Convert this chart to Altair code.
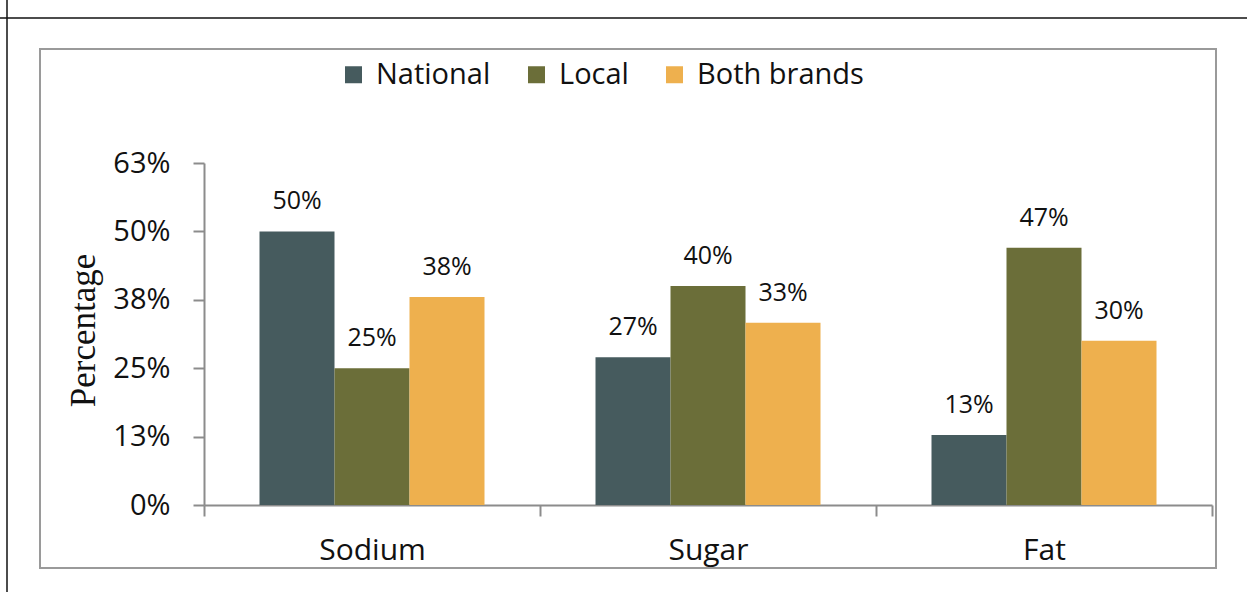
import altair as alt
import pandas as pd

categories = ["Sodium", "Sugar", "Fat"]
series = ["National", "Local", "Both brands"]
national = [0.50, 0.27, 0.128]
local = [0.25, 0.40, 0.47]
both = [0.38, 0.333, 0.30]
colors = ["#465b5e", "#6b6e39", "#eeb04e"]
y_ticks = [0, 0.125, 0.25, 0.375, 0.5, 0.625]

rows = []
for name, vals in zip(series, [national, local, both]):
    for cat, v in zip(categories, vals):
        rows.append({"nutrient": cat, "brand": name, "value": v})
df = pd.DataFrame(rows)

FONT = "Open Sans"
TXT = "#111111"

# plot area: x 204..1212, y 163..505 in the page
L, T, W, H = 204, 163, 1008, 342
PW, PH = 1247, 592

x_enc = alt.X(
    "nutrient:N", sort=categories,
    scale=alt.Scale(paddingInner=0, paddingOuter=0),
    axis=alt.Axis(title=None, tickBand="extent", labelAngle=0, labelFontSize=30,
                  labelPadding=19),
)
xo_enc = alt.XOffset("brand:N", sort=series,
                     scale=alt.Scale(paddingOuter=0.74, paddingInner=0))
y_enc = alt.Y(
    "value:Q",
    scale=alt.Scale(domain=[0, 0.625], nice=False, zero=True),
    axis=alt.Axis(values=y_ticks, format=".0%", grid=False, title="Percentage",
                  labelFontSize=29, labelPadding=23, titleFont="Liberation Serif",
                  titleFontSize=35, titleFontWeight="normal", titleColor=TXT,
                  titleX=-121, titleY=H / 2 - 4, titleAngle=270,
                  titleAlign="center", titleBaseline="middle"),
)

bars = alt.Chart(df).mark_bar(stroke=None).encode(
    x=x_enc, xOffset=xo_enc, y=y_enc,
    color=alt.Color("brand:N", sort=series,
                    scale=alt.Scale(domain=series, range=colors),
                    legend=alt.Legend(title=None, orient="none", direction="horizontal",
                                      legendX=135, legendY=-103, symbolType="square",
                                      symbolSize=289, symbolStrokeWidth=0,
                                      labelFontSize=29, labelFont=FONT, labelColor=TXT,
                                      labelLimit=0, labelOffset=8, columnPadding=31)),
)

labels = alt.Chart(df).mark_text(
    baseline="alphabetic", dy=-22, fontSize=25, font=FONT, color=TXT
).encode(
    x=alt.X("nutrient:N", sort=categories), xOffset=alt.XOffset("brand:N", sort=series),
    y="value:Q", text=alt.Text("value:Q", format=".0%"),
)

one = pd.DataFrame({"k": [0]})
frame = alt.Chart(one).mark_rect(fill=None, stroke="#9a9a9a", strokeWidth=2).encode(
    x=alt.value(40 - L), x2=alt.value(1216 - L),
    y=alt.value(49 - T), y2=alt.value(568 - T),
)
top_line = alt.Chart(one).mark_rule(color="#111111", strokeWidth=1.5).encode(
    x=alt.value(-L), x2=alt.value(PW - L), y=alt.value(18 - T),
)
left_line = alt.Chart(one).mark_rule(color="#111111", strokeWidth=1.5).encode(
    x=alt.value(7 - L), y=alt.value(-T), y2=alt.value(PH - T),
)

chart = alt.layer(frame, top_line, left_line, bars, labels).properties(
    width=W, height=H,
    autosize=alt.AutoSizeParams(type="none"),
    padding={"left": L, "top": T, "right": PW - L - W, "bottom": PH - T - H},
    background="white",
).configure_view(stroke=None).configure_axis(
    labelFont=FONT, labelColor=TXT, domainColor="#8c8c8c", domainWidth=2,
    tickColor="#8c8c8c", tickWidth=2, tickSize=11,
)

chart.save("out.html", embed_options={"renderer": "svg", "actions": False})
